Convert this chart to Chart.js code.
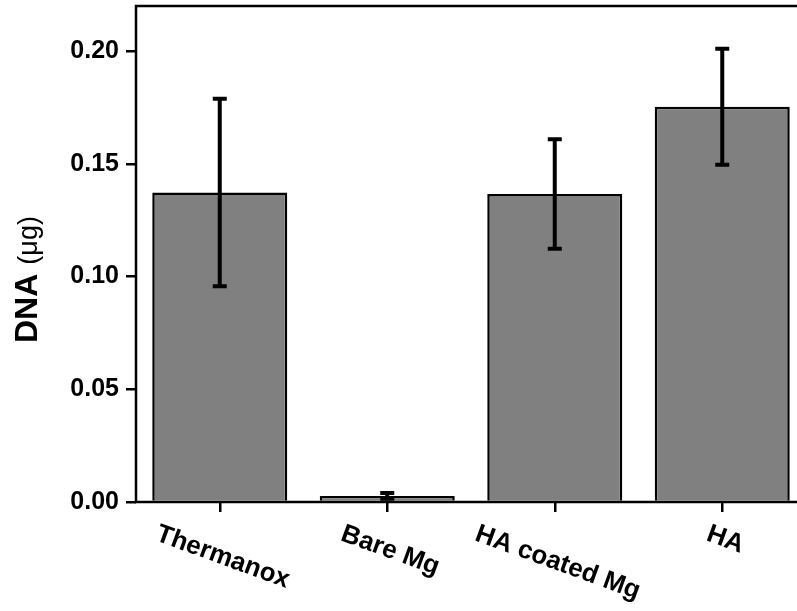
<!DOCTYPE html>
<html>
<head>
<meta charset="utf-8">
<script src="https://cdn.jsdelivr.net/npm/chart.js@4.4.1/dist/chart.umd.min.js"></script>
<style>
    html, body { margin: 0; padding: 0; background: #fff; overflow: hidden; }
    #wrap { width: 820px; height: 611px; }
</style>
</head>
<body>
<div id="wrap"><canvas id="graficoDNA"></canvas></div>
<script>
// datos
const categorias = ['Thermanox', 'Bare Mg', 'HA coated Mg', 'HA'];
const dnaMedia = [0.1373, 0.0027, 0.1366, 0.1753];
const dnaError = [0.0416, 0.0013, 0.0243, 0.0257];
const ticksY = [0.00, 0.05, 0.10, 0.15, 0.20];

const fuente = '"Liberation Sans", Arial, sans-serif';
Chart.defaults.color = '#000';
Chart.defaults.font.family = fuente;

// marco del area del grafico + barras de error
const pluginMarco = {
    id: 'marco',
    afterDatasetsDraw(chart) {
        const ctx = chart.ctx;
        const a = chart.chartArea;
        const y = chart.scales.y;
        ctx.save();
        ctx.strokeStyle = '#000';
        ctx.lineWidth = 2.5;
        ctx.strokeRect(a.left, a.top, a.right - a.left, a.bottom - a.top);

        const meta = chart.getDatasetMeta(0);
        ctx.lineWidth = 4;
        meta.data.forEach((barra, i) => {
            const yArriba = y.getPixelForValue(dnaMedia[i] + dnaError[i]);
            const yAbajo = y.getPixelForValue(dnaMedia[i] - dnaError[i]);
            ctx.beginPath();
            ctx.moveTo(barra.x, yArriba);
            ctx.lineTo(barra.x, yAbajo);
            ctx.moveTo(barra.x - 7, yArriba);
            ctx.lineTo(barra.x + 7, yArriba);
            ctx.moveTo(barra.x - 7, yAbajo);
            ctx.lineTo(barra.x + 7, yAbajo);
            ctx.stroke();
        });
        ctx.restore();
    },
    afterDraw(chart) {
        const ctx = chart.ctx;
        const x = chart.scales.x;
        const a = chart.chartArea;
        ctx.save();
        ctx.fillStyle = '#000';

        // etiquetas del eje x giradas hacia abajo
        const ang = 20 * Math.PI / 180;
        ctx.font = 'bold 26px ' + fuente;
        ctx.textAlign = 'center';
        ctx.textBaseline = 'middle';
        categorias.forEach((txt, i) => {
            const w = ctx.measureText(txt).width;
            const medio = (w * Math.sin(ang) + 26 * Math.cos(ang)) / 2;
            ctx.save();
            ctx.translate(x.getPixelForTick(i) + 3, a.bottom + 19 + medio);
            ctx.rotate(ang);
            ctx.fillText(txt, 0, 0);
            ctx.restore();
        });

        // titulo del eje y
        ctx.translate(37, 343);
        ctx.rotate(-Math.PI / 2);
        ctx.textAlign = 'left';
        ctx.textBaseline = 'alphabetic';
        ctx.font = 'bold 32px ' + fuente;
        ctx.fillText('DNA', 0, 0);
        const w = ctx.measureText('DNA').width;
        ctx.font = '27px ' + fuente;
        ctx.fillText('(\u03bcg)', w + 9, 0);
        ctx.restore();
    }
};

const ctx = document.getElementById('graficoDNA').getContext('2d');
const grafico = new Chart(ctx, {
    type: 'bar',
    data: {
        labels: categorias,
        datasets: [{
            label: 'DNA',
            data: dnaMedia,
            backgroundColor: '#808080',
            borderColor: '#000',
            borderWidth: 2.5,
            barPercentage: 0.806,
            categoryPercentage: 1.0
        }]
    },
    options: {
        responsive: true,
        maintainAspectRatio: false,
        animation: false,
        layout: { padding: { left: 70, top: 6, right: 14, bottom: 99 } },
        plugins: {
            legend: { display: false },
            tooltip: { enabled: false }
        },
        scales: {
            x: {
                offset: true,
                grid: { offset: false, drawOnChartArea: false, tickLength: 10, color: '#000', lineWidth: 2.5 },
                border: { display: false },
                ticks: { display: false },
                afterFit: s => { s.height = 10; s.paddingLeft = 0; s.paddingRight = 0; }
            },
            y: {
                min: 0,
                max: 0.22,
                grid: { drawOnChartArea: false, tickLength: 10, color: '#000', lineWidth: 2.5 },
                border: { display: false },
                ticks: {
                    padding: 7,
                    font: { size: 25, weight: 'bold' },
                    callback: v => v.toFixed(2)
                },
                afterBuildTicks: s => { s.ticks = ticksY.map(v => ({ value: v })); },
                afterFit: s => { s.width = 66; s.paddingTop = 0; s.paddingBottom = 0; }
            }
        }
    },
    plugins: [pluginMarco]
});
</script>
</body>
</html>
